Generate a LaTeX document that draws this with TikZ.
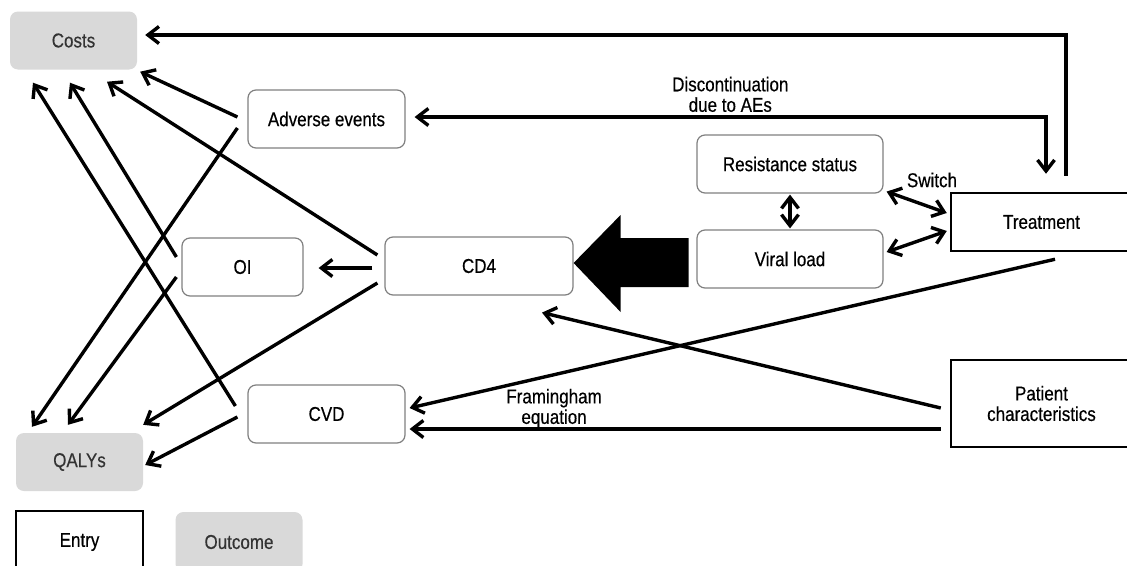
\documentclass[tikz,border=0pt]{standalone}
\usepackage{fontspec}
\setmainfont{Liberation Sans}[FakeStretch=0.85,FakeBold=0.4]
\usetikzlibrary{arrows.meta}
\begin{document}
\begin{tikzpicture}[x=1pt,y=-1pt,
  every node/.style={font=\fontsize{20}{20.5}\selectfont},
  state/.style={draw=black!50,line width=1.2pt,rounded corners=8pt,minimum height=58pt,inner sep=0pt},
  outcome/.style={fill=black!15,text=black!80,rounded corners=8pt,minimum width=127pt,minimum height=58pt,inner sep=0pt},
  entry/.style={draw,line width=2.5pt,inner sep=0pt},
  link/.style={line width=3.4pt,-{Straight Barb[length=11pt,width=17pt]}},
  both/.style={line width=3.4pt,{Straight Barb[length=11pt,width=17pt]}-{Straight Barb[length=11pt,width=17pt]}}]
\clip (0,0) rectangle (1127,565);
\fill[white] (0,0) rectangle (1127,565);
\node[outcome] (costs) at (73.5,40.5) {Costs};
\node[state,minimum width=157pt] (ae) at (326.5,119) {Adverse events};
\node[state,minimum width=186pt] (resist) at (790,164) {Resistance status};
\node[state,minimum width=186pt] (viral) at (790,259) {Viral load};
\node[entry,minimum width=181pt,minimum height=58pt] (treat) at (1041.5,222) {Treatment};
\node[state,minimum width=121pt] (oi) at (242.5,267) {OI};
\node[state,minimum width=188pt] (cd4) at (479,266) {CD4};
\node[state,minimum width=157pt] (cvd) at (326.5,414) {CVD};
\node[entry,minimum width=181pt,minimum height=87pt,align=center] (patient) at (1041.5,403.5) {Patient\\characteristics};
\node[outcome] (qalys) at (79.5,462) {QALYs};
\node[entry,minimum width=127pt,minimum height=62pt] (entrykey) at (79.5,542) {Entry};
\node[outcome,minimum height=60pt] (outcomekey) at (239,542) {Outcome};
\node (switch) at (932,180) {Switch};

\draw[link] ([xshift=24.5pt,yshift=16pt]treat.north) |- ([xshift=8pt,yshift=5.5pt]costs.east);
\draw[both] ([xshift=9pt,yshift=2pt]ae.east) -| node[pos=0.25,above,align=center] {Discontinuation\\due to AEs} ([xshift=4.5pt,yshift=18pt]treat.north);
\draw[link] ([xshift=-10pt,yshift=2pt]ae.west) -- ([xshift=3pt,yshift=-2pt]costs.south east);
\draw[link] ([xshift=-7pt,yshift=11pt]cd4.west) -- ([xshift=33.5pt,yshift=-12pt]costs.south);
\draw[link] ([xshift=-5pt,yshift=10pt]oi.west) -- ([xshift=-3.5pt,yshift=-13pt]costs.south);
\draw[link] ([xshift=-12pt,yshift=8pt]cvd.west) -- ([xshift=-40.5pt,yshift=-13pt]costs.south);
\draw[link] ([xshift=-10pt,yshift=-9pt]ae.west) -- ([xshift=-47.5pt,yshift=6pt]qalys.north);
\draw[link] ([xshift=-5pt,yshift=-10pt]oi.west) -- ([xshift=-11.5pt,yshift=8pt]qalys.north);
\draw[link] ([xshift=-7pt,yshift=-17pt]cd4.west) -- ([yshift=8pt]qalys.north east);
\draw[link] ([xshift=-10pt,yshift=-3pt]cvd.west) -- ([xshift=2pt,yshift=-3pt]qalys.east);
\draw[link] ([xshift=-12pt,yshift=-2pt]cd4.west) -- ([xshift=15pt,yshift=-1pt]oi.east);
\draw[both] ([yshift=-1pt]resist.south) -- ([yshift=1pt]viral.north);
\draw[both] ([xshift=3pt,yshift=2pt]resist.south east) -- ([xshift=-3pt,yshift=9pt]treat.west);
\draw[both] ([xshift=3pt,yshift=7pt]viral.east) -- ([xshift=-3pt,yshift=-9pt]treat.west);
\draw[link] ([xshift=13.5pt,yshift=-7pt]treat.south) -- ([xshift=4pt,yshift=6pt]cvd.east);
\draw[link] ([xshift=-9pt,yshift=-4.5pt]patient.west) -- ([xshift=63pt,yshift=-17pt]cd4.south);
\draw[link] ([xshift=-9pt,yshift=-25.5pt]patient.west) -- node[pos=0.728,above,yshift=-4pt,align=center] {Framingham\\equation} ([xshift=4pt,yshift=-15pt]cvd.east);
\fill ([yshift=3pt]cd4.east) -- ++(47,-48) -- ++(0,23) -- ++(68,0) -- ++(0,49) -- ++(-68,0) -- ++(0,25) -- cycle;
\end{tikzpicture}
\end{document}
